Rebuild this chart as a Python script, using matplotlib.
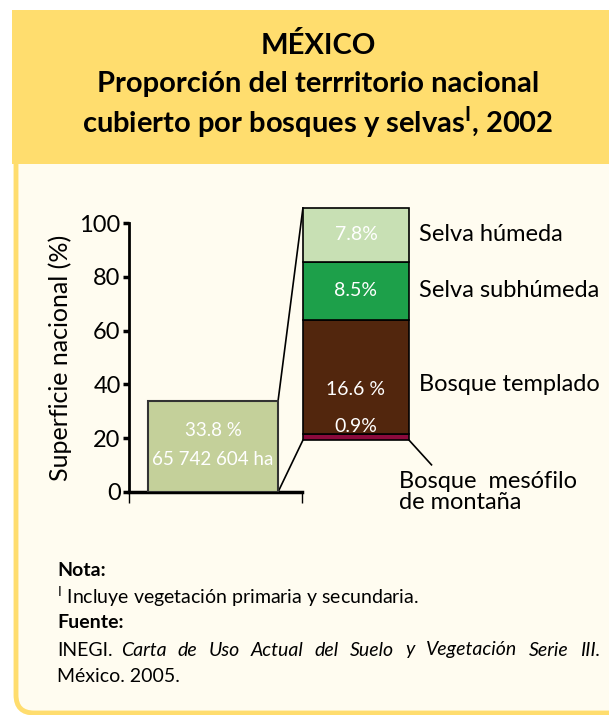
import matplotlib
matplotlib.use("Agg")
import matplotlib.pyplot as plt
from matplotlib.patches import Rectangle, FancyBboxPatch

plt.rcParams['font.family'] = ['Lato', 'DejaVu Sans']

# ---- data ----
total_pct = 33.8
total_label = ["33.8 %", "65 742 604 ha"]
yticks = [0, 20, 40, 60, 80, 100]
categories = ["Bosque  mesófilo\nde montaña", "Bosque templado", "Selva subhúmeda", "Selva húmeda"]
values = [0.9, 16.6, 8.5, 7.8]
value_labels = ["0.9%", "16.6 %", "8.5%", "7.8%"]
colors = ["#8B0A3C", "#52260D", "#1DA04A", "#C8E0B4"]

W, H = 609, 715
fig = plt.figure(figsize=(W / 100, H / 100), dpi=100)
fig.patch.set_facecolor("white")
renderer = fig.canvas.get_renderer()

# background decoration in pixel coords
bg = fig.add_axes([0, 0, 1, 1])
bg.set_xlim(0, W)
bg.set_ylim(H, 0)
bg.axis("off")
yellow = "#FFDD6E"
cream = "#FFFCF0"
bg.add_patch(FancyBboxPatch((16, 140), 640, 573, boxstyle="round,pad=0,rounding_size=18",
                            facecolor=cream, edgecolor=yellow, linewidth=3.5))
bg.add_patch(Rectangle((12, 10), 600, 154, facecolor=yellow, edgecolor="none"))
fs_t = 21
bg.text(318, 45, "MÉXICO", ha="center", va="center", fontsize=fs_t, fontweight="bold")
bg.text(318, 84, "Proporción del terrritorio nacional", ha="center", va="center",
        fontsize=fs_t, fontweight="bold")
bg.text(318, 122, "cubierto por bosques y selvas$^{\\mathregular{I}}$, 2002", ha="center", va="center",
        fontsize=fs_t, fontweight="bold")

# notes
fs_note = 14
bg.text(57, 571, "Nota:", ha="left", va="center", fontsize=fs_note, fontweight="bold")
bg.text(57, 597, "$^{\\mathregular{I}}$ Incluye vegetación primaria y secundaria.", ha="left", va="center", fontsize=fs_note)
bg.text(57, 622, "Fuente:", ha="left", va="center", fontsize=fs_note, fontweight="bold")
t0 = bg.text(57, 650, "INEGI.", ha="left", va="center", fontsize=fs_note)
fig.canvas.draw()
x_start = t0.get_window_extent(renderer).x1 + 8
words = "Carta de Uso Actual del Suelo y Vegetación Serie III.".split()
x_end = 600
wtexts = [bg.text(0, 650, w, ha="left", va="center", fontsize=fs_note, style="italic") for w in words]
widths = [t.get_window_extent(renderer).width for t in wtexts]
gap = (x_end - x_start - sum(widths)) / (len(words) - 1)
xx = x_start
for t, wd in zip(wtexts, widths):
    t.set_x(xx)
    xx += wd + gap
bg.text(57, 676, "México. 2005.", ha="left", va="center", fontsize=fs_note)

# main axes
ax_l, ax_r = 129, 302
y0, y100 = 492, 223
ax = fig.add_axes([ax_l / W, 1 - y0 / H, (ax_r - ax_l) / W, (y0 - y100) / H])
ax.set_facecolor("none")
ax.set_xlim(0, 1)
ax.set_ylim(0, 100)
for s in ["top", "right"]:
    ax.spines[s].set_visible(False)
ax.spines["left"].set_linewidth(2)
ax.spines["bottom"].set_linewidth(2.5)
ax.set_yticks(yticks)
ax.set_yticklabels([str(t) for t in yticks], fontsize=17)
ax.tick_params(axis="y", direction="out", length=4, width=2.5, pad=2)
ax.set_xticks([0, 1])
ax.set_xticklabels([])
ax.tick_params(axis="x", direction="out", length=8, width=1)
ax.set_ylabel("Superficie nacional (%)", fontsize=18, labelpad=5)

# left bar
lx, lw = 0.486, 0.751
ax.bar([lx], [total_pct], width=lw, color="#C4D09A", edgecolor="#333333", linewidth=1.5, zorder=3)
ax.text(lx, 23, total_label[0], ha="center", va="center", color="white", fontsize=13.5)
ax.text(lx, 12, total_label[1], ha="center", va="center", color="white", fontsize=13.5)

# exploded stacked bar
rx, rw = 1.312, 0.613
r_bottom = 19.3
scale = (105.6 - r_bottom) / total_pct
bottom = r_bottom
bar_tops = []
for v, c in zip(values, colors):
    h = v * scale
    ax.bar([rx], [h], bottom=bottom, width=rw, color=c, edgecolor="black", linewidth=1.2,
           clip_on=False, zorder=3)
    bar_tops.append((bottom, bottom + h))
    bottom += h

# labels inside stacked bar
for i, (lbl, (b, t)) in enumerate(zip(value_labels, bar_tops)):
    if i == 0:
        yy = b + 5.2
    elif i == 1:
        yy = (b + t) / 2 - 4.5
    else:
        yy = (b + t) / 2
    ax.text(rx, yy, lbl, ha="center", va="center", color="white", fontsize=14, clip_on=False, zorder=4)

# category labels
tx = rx + rw / 2 + 0.06
for i, (cat, (b, t)) in enumerate(zip(categories, bar_tops)):
    if i == 0:
        ax.text(1.561, 0.0, cat, ha="left", va="center", fontsize=17, clip_on=False,
                linespacing=1.05)
    else:
        yy = (b + t) / 2 + (-3.0 if i == 1 else 0)
        ax.text(tx, yy, cat, ha="left", va="center", fontsize=17, clip_on=False)

# connector lines
lr = lx + lw / 2
rl = rx - rw / 2
rr = rx + rw / 2
ax.plot([lr, rl], [total_pct, bar_tops[-1][1]], color="black", lw=1.2, clip_on=False)
ax.plot([lr, rl], [0, r_bottom], color="black", lw=1.2, clip_on=False)
ax.plot([rr, rr + 0.13], [r_bottom, r_bottom - 9.2], color="black", lw=1.2, clip_on=False)

fig.savefig("out.png", dpi=100, facecolor="white")
